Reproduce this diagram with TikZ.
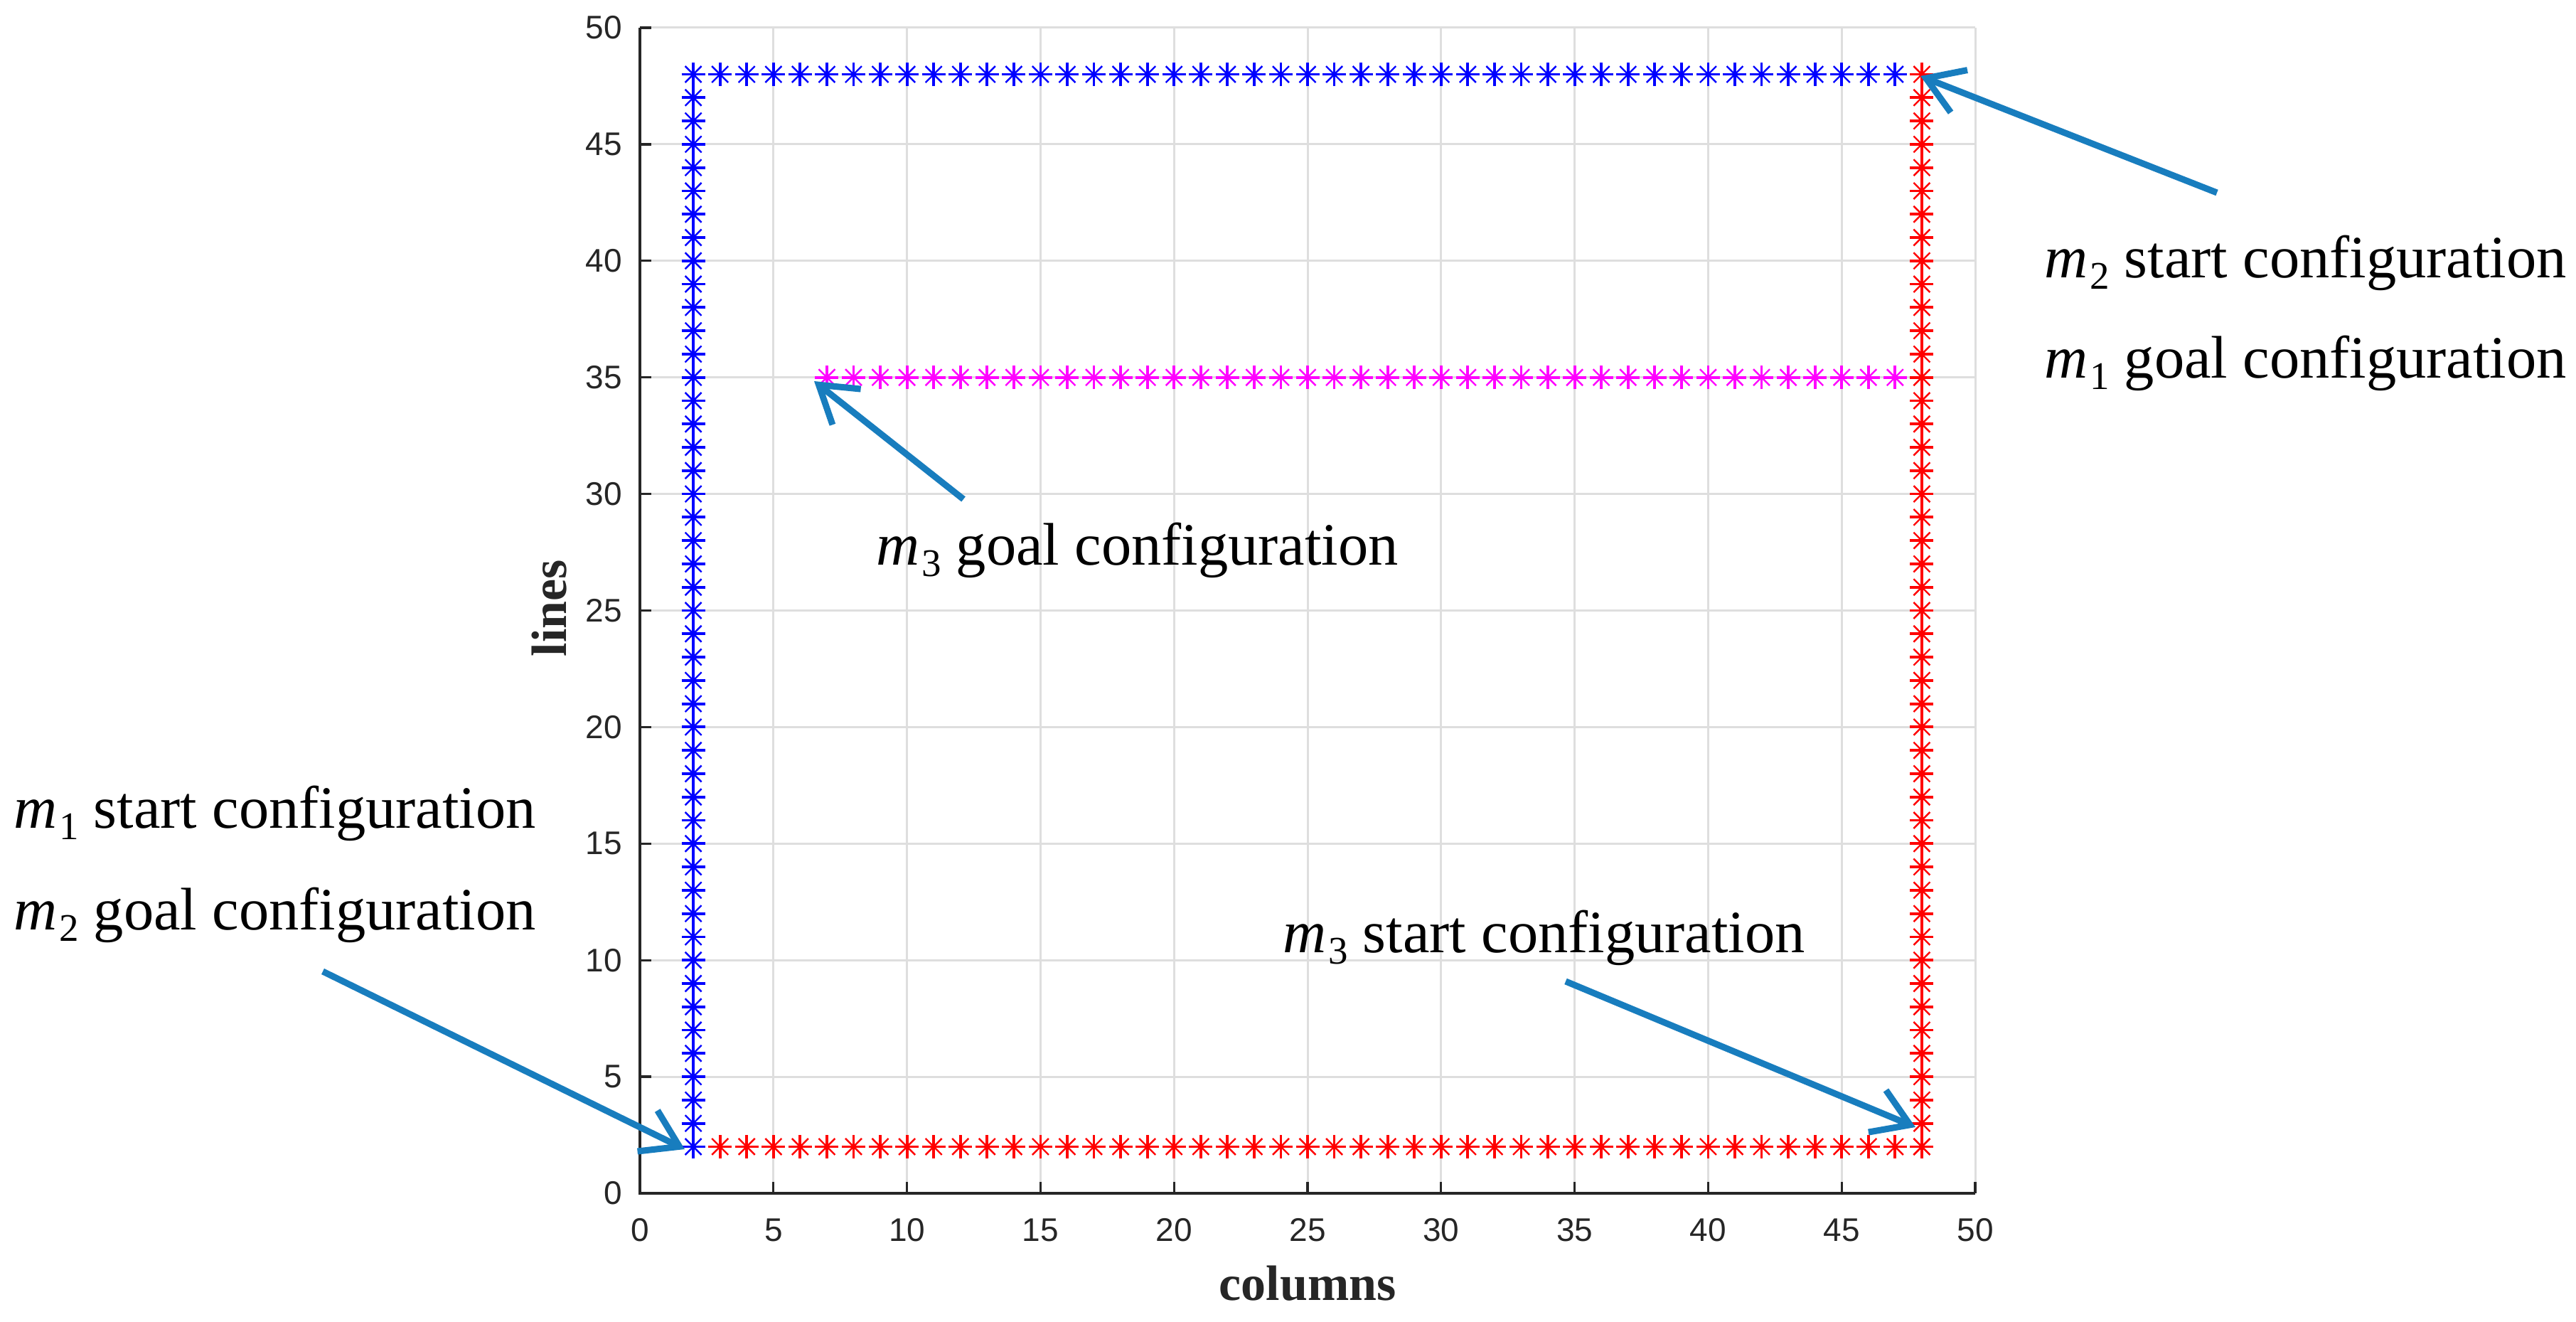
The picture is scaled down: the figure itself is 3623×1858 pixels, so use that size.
\documentclass[tikz,border=0pt]{standalone}
\usepackage{fontspec}
\setmainfont{Liberation Serif}
\newfontfamily\ticksf{Liberation Sans}
\usetikzlibrary{arrows.meta}
\definecolor{mblue}{RGB}{0,0,255}
\definecolor{mred}{RGB}{255,0,0}
\definecolor{mmag}{RGB}{255,0,255}
\definecolor{arrowblue}{RGB}{24,125,190}
\definecolor{gridgray}{RGB}{222,222,222}
\definecolor{axisgray}{RGB}{38,38,38}
\newcommand{\msub}[1]{{\itshape m}\kern3pt\raisebox{-16pt}{\fontsize{55}{55}\selectfont #1}\relax}
\tikzset{
  ast/.pic={
    \draw[line width=3.8pt] (-16.5pt,0)--(16.5pt,0) (0,-16.5pt)--(0,16.5pt);
    \draw[line width=2.4pt] (-11.5pt,-11.5pt)--(11.5pt,11.5pt) (-11.5pt,11.5pt)--(11.5pt,-11.5pt);
  },
  gridline/.style={draw=gridgray, line width=3pt},
  axisline/.style={draw=axisgray, line width=3.3pt},
  ticklab/.style={text=axisgray, font=\ticksf\fontsize{46}{50}\selectfont, inner sep=0pt},
  axlab/.style={text=axisgray, font=\bfseries\fontsize{70}{80}\selectfont, inner sep=0pt},
  annot/.style={font=\fontsize{84.5}{95}\selectfont, inner sep=0pt, anchor=base west},
  callout/.style={draw=arrowblue, line width=9pt, -{Straight Barb[length=50pt,width=64pt]}}
}
\begin{document}
\begin{tikzpicture}[x=1pt,y=1pt]
\useasboundingbox[fill=white] (0,0) rectangle (3623,1858);
\begin{scope}[shift={(900,180)}, x=37.56pt, y=32.78pt]
  % grid
  \foreach \k in {5,10,...,50} {
    \draw[gridline] (\k,0) -- (\k,50);
    \draw[gridline] (0,\k) -- (50,\k);
  }
  % axes
  \draw[axisline] (0,50) -- (0,0) -- (50,0);
  \foreach \k in {0,5,...,50} {
    \draw[axisline] (\k,0) -- ++(0,16pt);
    \draw[axisline] (0,\k) -- ++(16pt,0);
    \node[ticklab, anchor=east] (yl\k) at ([xshift=-25pt]0,\k) {\k};
    \node[ticklab] (xl\k) at ([yshift=-52pt]\k,0) {\k};
  }
  % markers
  \foreach \i in {2,...,48} \pic[color=mblue] at (2,\i) {ast};
  \foreach \i in {3,...,47} \pic[color=mblue] at (\i,48) {ast};
  \foreach \i in {7,...,47} \pic[color=mmag] at (\i,35) {ast};
  \foreach \i in {3,...,48} \pic[color=mred] at (\i,2) {ast};
  \foreach \i in {2,...,48} \pic[color=mred] at (48,\i) {ast};
  % axis labels
  \node[axlab] (xlab) at (25,-3.85) {columns};
  \node[axlab, rotate=90] (ylab) at (-3.4,25.1) {lines};
\end{scope}
% annotation texts
\node[annot] (l1) at (2875,1467) {\msub{2} start configuration};
\node[annot] (l2) at (2875,1326) {\msub{1} goal configuration};
\node[annot] (l3) at (1232,1063) {\msub{3} goal configuration};
\node[annot] (l4) at (19,693) {\msub{1} start configuration};
\node[annot] (l5) at (19,550) {\msub{2} goal configuration};
\node[annot] (l6) at (1804,518) {\msub{3} start configuration};
% arrow end points
\coordinate (t1) at (3118,1587); \coordinate (h1) at (2701,1751);
\coordinate (t2) at (1355,1156); \coordinate (h2) at (1145,1322);
\coordinate (t3) at (454,492);   \coordinate (h3) at (963,242);
\coordinate (t4) at (2202,478);  \coordinate (h4) at (2694,273);
\draw[callout] (t1) -- (h1);
\draw[callout] (t2) -- (h2);
\draw[callout] (t3) -- (h3);
\draw[callout] (t4) -- (h4);
\end{tikzpicture}
\end{document}
